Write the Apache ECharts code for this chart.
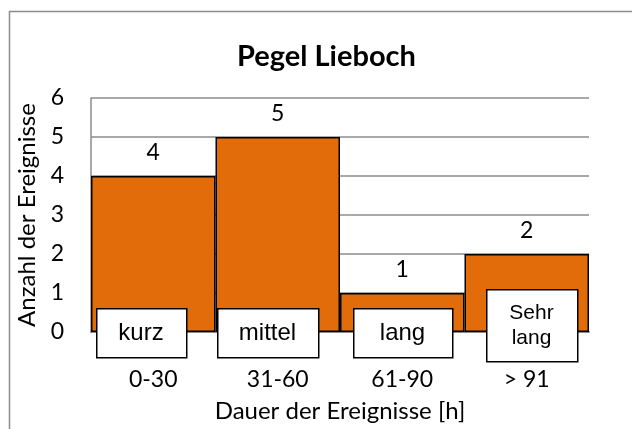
<!DOCTYPE html>
<html>
<head>
<meta charset="utf-8">
<script src="https://cdn.jsdelivr.net/npm/echarts@6/dist/echarts.min.js"></script>
<style>
  html, body { margin: 0; padding: 0; background: #fff; }
  #chart { width: 632px; height: 429px; }
</style>
</head>
<body>
<div id="chart"></div>
<script>
// Event counts per duration class at the Lieboch gauge
const categories = ['0-30', '31-60', '61-90', '> 91'];
const eventCounts = [4, 5, 1, 2];
const classNames = ['kurz', 'mittel', 'lang', 'Sehr\nlang'];

const FONT = 'Lato, "Open Sans", sans-serif';
const BOX_FONT = '"Liberation Sans", Arial, sans-serif';
const ORANGE = '#E36C0A';

const chart = echarts.init(document.getElementById('chart'));

// Text boxes naming each duration class
const boxes = [
  { x: 96,  y: 308, w: 90,  h: 49 },
  { x: 217, y: 308, w: 101, h: 49 },
  { x: 353, y: 308, w: 99,  h: 49 },
  { x: 486, y: 289, w: 91,  h: 72 }
];
const boxGraphics = [];
boxes.forEach((b, i) => {
  boxGraphics.push({
    type: 'rect', left: b.x, top: b.y, z: 100,
    shape: { x: 0, y: 0, width: b.w, height: b.h },
    style: { fill: '#fff', stroke: '#000', lineWidth: 1.5 }
  });
  boxGraphics.push({
    type: 'text', z: 101,
    x: b.x + b.w / 2, y: b.y + b.h / 2 + 1,
    style: {
      text: classNames[i], fill: '#000',
      font: (i === 3 ? '21px ' : '24px ') + BOX_FONT,
      align: 'center', verticalAlign: 'middle',
      lineHeight: i === 3 ? 25 : 24
    }
  });
});

chart.setOption({
  animation: false,
  title: {
    text: 'Pegel Lieboch',
    left: 232,
    top: 37,
    textStyle: { fontFamily: FONT, fontWeight: 'bold', fontSize: 29, color: '#000' }
  },
  grid: { left: 91, right: 43, top: 98, bottom: 97 },
  xAxis: {
    type: 'category',
    data: categories,
    name: 'Dauer der Ereignisse [h]',
    nameLocation: 'middle',
    nameGap: 67,
    nameTextStyle: { fontFamily: FONT, fontSize: 24, color: '#000' },
    axisLine: { lineStyle: { color: '#8c8c8c', width: 2 } },
    axisTick: { show: false },
    axisLabel: { margin: 36, fontFamily: FONT, fontSize: 23, color: '#000' }
  },
  yAxis: {
    type: 'value',
    min: 0,
    max: 6,
    interval: 1,
    name: 'Anzahl der Ereignisse',
    nameLocation: 'middle',
    nameGap: 47,
    nameTextStyle: { fontFamily: FONT, fontSize: 24, color: '#000' },
    axisLine: { show: true, lineStyle: { color: '#8c8c8c', width: 1.5 } },
    axisTick: { show: false },
    axisLabel: { margin: 27, fontFamily: FONT, fontSize: 23, color: '#000' },
    splitLine: { lineStyle: { color: '#8c8c8c', width: 1.5 } }
  },
  series: [{
    type: 'bar',
    data: eventCounts,
    barWidth: '100%',
    barCategoryGap: '0%',
    itemStyle: { color: ORANGE, borderColor: '#000', borderWidth: 1.5 },
    label: {
      show: true,
      position: 'top',
      distance: 12,
      fontFamily: FONT,
      fontSize: 23,
      color: '#000'
    }
  }],
  graphic: [
    { type: 'rect', left: 7, top: 9, z: 0,
      shape: { x: 0, y: 0, width: 640, height: 440 },
      style: { fill: 'none', stroke: '#8c8c8c', lineWidth: 1.5 } }
  ].concat(boxGraphics)
});
</script>
</body>
</html>
